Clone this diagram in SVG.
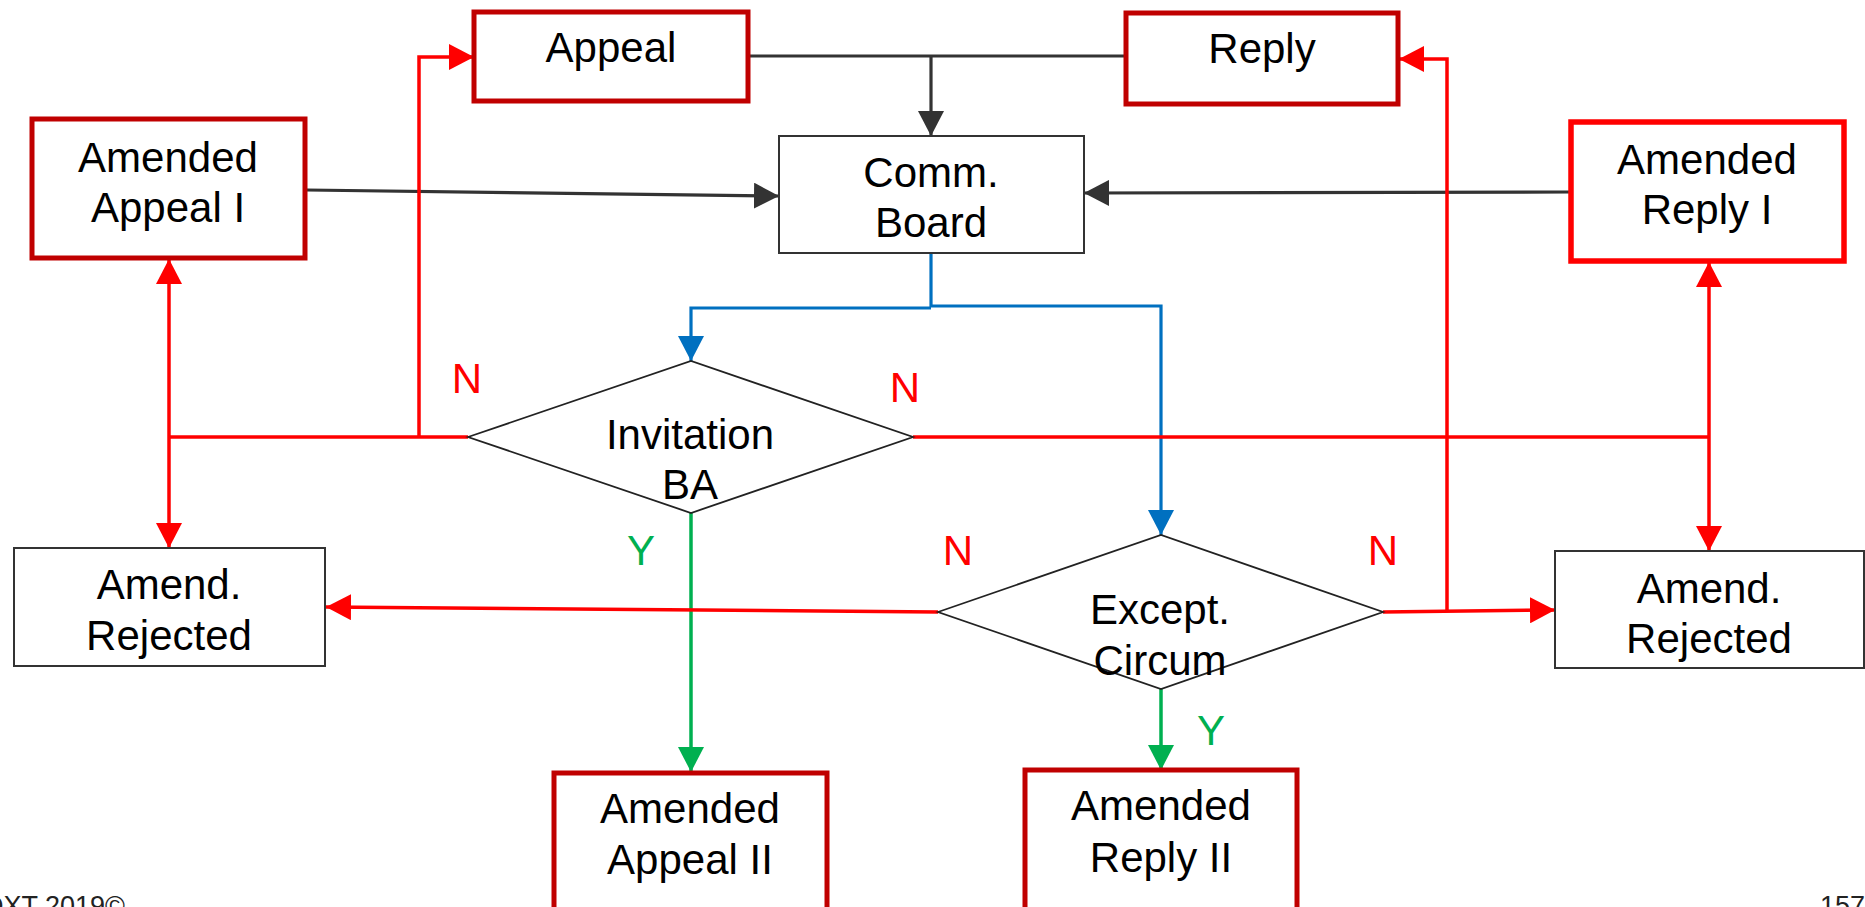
<svg xmlns="http://www.w3.org/2000/svg" width="1865" height="907" viewBox="0 0 1865 907">
<style>
text{font-family:"Liberation Sans",Arial,sans-serif;font-size:42px;fill:#000;text-anchor:middle}
.lbl{font-size:42px}
.n{fill:#FF0000}
.y{fill:#00B050}
.foot{font-size:27px;fill:#222;text-anchor:start}
.bdr{fill:#fff;stroke:#C00000;stroke-width:5}
.bright{fill:#fff;stroke:#FF0000;stroke-width:5.5}
.thin{fill:#fff;stroke:#333;stroke-width:2}
.dia{fill:#fff;stroke:#222;stroke-width:1.8}
.red{fill:none;stroke:#FF0000;stroke-width:3.5}
.blk{fill:none;stroke:#333;stroke-width:3.2}
.blu{fill:none;stroke:#0070C0;stroke-width:3.2}
.grn{fill:none;stroke:#00B050;stroke-width:3.5}
</style>
<defs>
<marker id="aR" markerUnits="userSpaceOnUse" markerWidth="26" markerHeight="26" refX="25" refY="13" orient="auto"><path d="M0,0L25,13L0,26z" fill="#FF0000"/></marker>
<marker id="aK" markerUnits="userSpaceOnUse" markerWidth="26" markerHeight="26" refX="25" refY="13" orient="auto"><path d="M0,0L25,13L0,26z" fill="#333"/></marker>
<marker id="aB" markerUnits="userSpaceOnUse" markerWidth="26" markerHeight="26" refX="25" refY="13" orient="auto"><path d="M0,0L25,13L0,26z" fill="#0070C0"/></marker>
<marker id="aG" markerUnits="userSpaceOnUse" markerWidth="26" markerHeight="26" refX="25" refY="13" orient="auto"><path d="M0,0L25,13L0,26z" fill="#00B050"/></marker>
</defs>
<rect width="1865" height="907" fill="#fff"/>

<g id="connectors">
  <!-- black -->
  <path class="blk" d="M748,56 L1126,56"/>
  <path class="blk" d="M931,56 L931,136" marker-end="url(#aK)"/>
  <path class="blk" d="M307,190 L779,196" marker-end="url(#aK)"/>
  <path class="blk" d="M1571,192 L1084,193" marker-end="url(#aK)"/>
  <!-- blue -->
  <path class="blu" d="M931,253 L931,307"/>
  <path class="blu" d="M931,308 L691,308 L691,361" marker-end="url(#aB)"/>
  <path class="blu" d="M931,306 L1161,306 L1161,535" marker-end="url(#aB)"/>
  <!-- green -->
  <path class="grn" d="M691,513 L691,772" marker-end="url(#aG)"/>
  <path class="grn" d="M1161,689 L1161,770" marker-end="url(#aG)"/>
  <!-- red left -->
  <path class="red" d="M468,437 L169,437"/>
  <path class="red" d="M169,437 L169,259" marker-end="url(#aR)"/>
  <path class="red" d="M169,437 L169,548" marker-end="url(#aR)"/>
  <path class="red" d="M419,437 L419,57 L474,57" marker-end="url(#aR)"/>
  <path class="red" d="M938,612 L326,607" marker-end="url(#aR)"/>
  <!-- red right -->
  <path class="red" d="M913,437 L1709,437"/>
  <path class="red" d="M1709,437 L1709,262" marker-end="url(#aR)"/>
  <path class="red" d="M1709,437 L1709,551" marker-end="url(#aR)"/>
  <path class="red" d="M1383,612 L1555,610" marker-end="url(#aR)"/>
  <path class="red" d="M1447,612 L1447,59 L1399,59" marker-end="url(#aR)"/>
</g>

<g id="appeal">
  <rect class="bdr" x="474" y="12" width="274" height="89"/>
  <text x="611" y="62">Appeal</text>
</g>
<g id="reply">
  <rect class="bdr" x="1126" y="13" width="272" height="91"/>
  <text x="1262" y="63">Reply</text>
</g>
<g id="comm-board">
  <rect class="thin" x="779" y="136" width="305" height="117"/>
  <text x="931" y="187">Comm.</text>
  <text x="931" y="237">Board</text>
</g>
<g id="amended-appeal-1">
  <rect class="bdr" x="32" y="119" width="273" height="139"/>
  <text x="168" y="172">Amended</text>
  <text x="168" y="222">Appeal I</text>
</g>
<g id="amended-reply-1">
  <rect class="bright" x="1571" y="122" width="273" height="139"/>
  <text x="1707" y="174">Amended</text>
  <text x="1707" y="224">Reply I</text>
</g>
<g id="invitation-ba">
  <polygon class="dia" points="468,437 691,361 913,437 691,513"/>
  <text x="690" y="449">Invitation</text>
  <text x="690" y="499">BA</text>
</g>
<g id="except-circum">
  <polygon class="dia" points="938,612 1161,535 1383,612 1161,689"/>
  <text x="1160" y="624">Except.</text>
  <text x="1160" y="675">Circum</text>
</g>
<g id="amend-rejected-left">
  <rect class="thin" x="14" y="548" width="311" height="118"/>
  <text x="169" y="599">Amend.</text>
  <text x="169" y="650">Rejected</text>
</g>
<g id="amend-rejected-right">
  <rect class="thin" x="1555" y="551" width="309" height="117"/>
  <text x="1709" y="603">Amend.</text>
  <text x="1709" y="653">Rejected</text>
</g>
<g id="amended-appeal-2">
  <rect class="bdr" x="554" y="773" width="273" height="150"/>
  <text x="690" y="823">Amended</text>
  <text x="690" y="874">Appeal II</text>
</g>
<g id="amended-reply-2">
  <rect class="bdr" x="1025" y="770" width="272" height="150"/>
  <text x="1161" y="820">Amended</text>
  <text x="1161" y="872">Reply II</text>
</g>

<g id="labels">
  <text class="n" x="467" y="393">N</text>
  <text class="n" x="905" y="402">N</text>
  <text class="n" x="958" y="565">N</text>
  <text class="n" x="1383" y="565">N</text>
  <text class="y" x="641" y="565">Y</text>
  <text class="y" x="1211" y="745">Y</text>
  <text class="foot" x="-16" y="915">DXT 2019©</text>
  <text class="foot" x="1820" y="915">157</text>
</g>
</svg>
